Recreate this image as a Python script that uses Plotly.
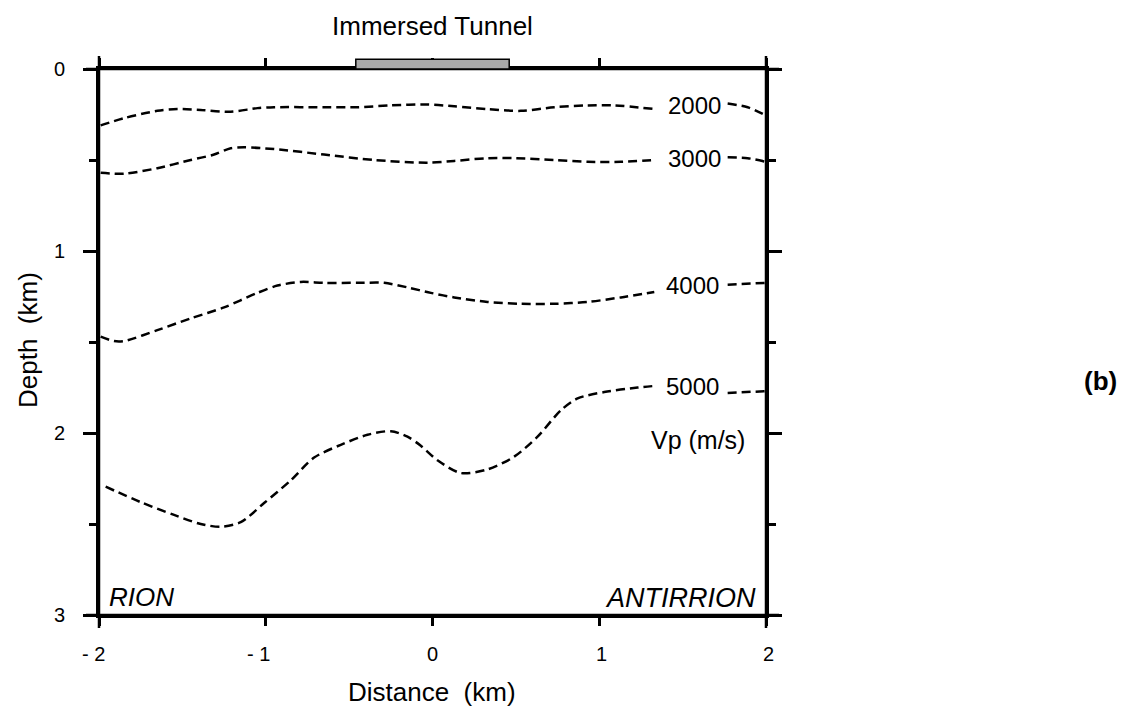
import plotly.graph_objects as go

# ---- velocity contours (distance in km, depth in km); None splits line around its label ----
X_2000 = [-1.99, -1.85, -1.65, -1.53, -1.39, -1.21, -1.05, -0.95, -0.65, -0.45, -0.25, -0.03,
          0.13, 0.33, 0.53, 0.73, 0.93, 1.09, 1.33, None, 1.77, 1.89, 2.0]
D_2000 = [0.31, 0.27, 0.23, 0.22, 0.225, 0.235, 0.215, 0.21, 0.21, 0.21, 0.20, 0.195,
          0.205, 0.22, 0.23, 0.21, 0.20, 0.20, 0.22, None, 0.19, 0.21, 0.255]

X_3000 = [-1.99, -1.85, -1.65, -1.45, -1.31, -1.21, -1.13, -0.95, -0.65, -0.35, -0.03,
          0.13, 0.33, 0.49, 0.73, 0.93, 1.13, 1.33, None, 1.77, 1.89, 2.0]
D_3000 = [0.57, 0.575, 0.545, 0.50, 0.47, 0.435, 0.43, 0.44, 0.47, 0.50, 0.515,
          0.505, 0.49, 0.49, 0.50, 0.51, 0.51, 0.50, None, 0.485, 0.49, 0.51]

X_4000 = [-1.99, -1.91, -1.85, -1.65, -1.45, -1.25, -1.05, -0.93, -0.79, -0.65, -0.45, -0.29,
          -0.15, -0.01, 0.13, 0.33, 0.53, 0.73, 0.93, 1.13, 1.33, None, 1.77, 2.0]
D_4000 = [1.47, 1.495, 1.495, 1.435, 1.37, 1.31, 1.23, 1.19, 1.17, 1.175, 1.175, 1.175,
          1.20, 1.23, 1.255, 1.28, 1.29, 1.29, 1.28, 1.255, 1.225, None, 1.185, 1.175]

X_5000 = [-1.96, -1.75, -1.55, -1.39, -1.27, -1.15, -1.01, -0.85, -0.71, -0.55, -0.39, -0.25,
          -0.15, -0.07, 0.03, 0.17, 0.33, 0.49, 0.63, 0.77, 0.87, 1.03, 1.23, 1.35, None, 1.77, 2.0]
D_5000 = [2.295, 2.38, 2.45, 2.50, 2.515, 2.49, 2.385, 2.26, 2.135, 2.065, 2.01, 1.99,
          2.02, 2.07, 2.15, 2.22, 2.20, 2.13, 2.02, 1.875, 1.81, 1.775, 1.75, 1.74, None, 1.78, 1.77]

CONTOURS = [(X_2000, D_2000), (X_3000, D_3000), (X_4000, D_4000), (X_5000, D_5000)]

# contour labels: text, distance, depth
LABEL_TEXT = ["2000", "3000", "4000", "5000", "Vp (m/s)"]
LABEL_X = [1.57, 1.57, 1.56, 1.56, 1.59]
LABEL_D = [0.203, 0.489, 1.187, 1.747, 2.038]
LABEL_SIZE = [24, 24, 24, 24, 25]

# immersed tunnel footprint
TUNNEL_X = [-0.46, 0.46]
TUNNEL_D = [-0.053, 0.0]

X_TICKS = [-2, -1, 0, 1, 2]
X_TICKTEXT = ["- 2", "- 1", "0", "1", "2"]
X_TICK_NUDGE = [-6, -7, 0, 2, 2]   # horizontal pixel nudge of each distance label
Y_TICKS = [0, 1, 2, 3]
Y_TICKTEXT = ["0", "1", "2", "3"]
Y_MINOR = [0.5, 1.5, 2.5]
X_RANGE = [-2, 2]
Y_RANGE = [3, 0]

FONT = "Liberation Sans, Arial, sans-serif"
TICK_SIZE = 20

fig = go.Figure()
for xs, ds in CONTOURS:
    fig.add_trace(go.Scatter(
        x=xs, y=ds, mode="lines", connectgaps=False,
        line=dict(color="black", width=2.5, dash="9px,5px", shape="spline", smoothing=0.8),
        hoverinfo="skip", showlegend=False,
    ))

for txt, lx, ld, sz in zip(LABEL_TEXT, LABEL_X, LABEL_D, LABEL_SIZE):
    fig.add_annotation(x=lx, y=ld, xref="x", yref="y", text=txt, showarrow=False,
                       xanchor="center", yanchor="middle",
                       font=dict(family=FONT, size=sz, color="black"))

# frame with crossed corners
W, H = 1136, 709
L, R, T, B = 99, 370, 69, 94
pw, ph = W - L - R, H - T - B
ex, ey = 13 / pw, 13 / ph
frame = dict(type="line", xref="paper", yref="paper", line=dict(color="black", width=2.5), layer="above")
fig.add_shape(x0=-ex, x1=1 + ex, y0=1, y1=1, **frame)
fig.add_shape(x0=-ex, x1=1 + ex, y0=0, y1=0, **frame)
fig.add_shape(x0=0, x1=0, y0=-ey, y1=1 + ey, **frame)
fig.add_shape(x0=1, x1=1, y0=-ey, y1=1 + ey, **frame)


# tunnel box sits just above depth 0, outside the data range
def depth_to_paper(d):
    return (Y_RANGE[0] - d) / (Y_RANGE[0] - Y_RANGE[1])


fig.add_shape(type="rect", xref="x", yref="paper",
              x0=TUNNEL_X[0], x1=TUNNEL_X[1],
              y0=depth_to_paper(TUNNEL_D[1]), y1=depth_to_paper(TUNNEL_D[0]),
              fillcolor="#a9a9a9", line=dict(color="black", width=1.5), layer="above")


def px_x(px):
    return (px - L) / pw


def px_y(py):
    return 1 - (py - T) / ph


def note(text, x, y, size, **kw):
    fig.add_annotation(x=x, y=y, xref="paper", yref="paper", text=text, showarrow=False,
                       font=dict(family=FONT, size=size, color="black"), **kw)


note("Immersed Tunnel", px_x(432), px_y(26), 26, xanchor="center", yanchor="middle")
note("Distance  (km)", px_x(432), px_y(692), 26, xanchor="center", yanchor="middle")
note("Depth  (km)", px_x(28), px_y(340), 26, xanchor="center", yanchor="middle", textangle=-90)
note("<i>RION</i>", px_x(107), px_y(597), 26, xanchor="left", yanchor="middle")
note("<i>ANTIRRION</i>", px_x(758), px_y(598), 27, xanchor="right", yanchor="middle")
note("<b>(b)</b>", px_x(1100), px_y(381), 26, xanchor="center", yanchor="middle")

# tick labels, placed on the axis scales
for tv, tt, nx in zip(X_TICKS, X_TICKTEXT, X_TICK_NUDGE):
    fig.add_annotation(x=tv, y=0, xref="x", yref="paper", text=tt, showarrow=False,
                       xanchor="center", yanchor="middle", xshift=nx, yshift=-39,
                       font=dict(family=FONT, size=TICK_SIZE, color="black"))
for tv, tt in zip(Y_TICKS, Y_TICKTEXT):
    fig.add_annotation(x=0, y=tv, xref="paper", yref="y", text=tt, showarrow=False,
                       xanchor="right", yanchor="middle", xshift=-32,
                       font=dict(family=FONT, size=TICK_SIZE, color="black"))

axis_common = dict(showgrid=False, zeroline=False, showline=True, linecolor="black",
                   linewidth=2.5, mirror="ticks", ticks="outside", tickcolor="black",
                   tickwidth=2.5, showticklabels=False)

fig.update_xaxes(range=X_RANGE, tickmode="array", tickvals=X_TICKS, ticklen=8, **axis_common)
fig.update_yaxes(range=Y_RANGE, tickmode="array", tickvals=Y_TICKS, ticklen=13,
                 minor=dict(tickvals=Y_MINOR, ticklen=7, tickwidth=2.5, tickcolor="black",
                            ticks="outside"),
                 **axis_common)

fig.update_layout(width=W, height=H, margin=dict(l=L, r=R, t=T, b=B),
                  font=dict(family=FONT, size=TICK_SIZE, color="black"),
                  paper_bgcolor="white", plot_bgcolor="white", showlegend=False)

fig.write_html("out.html")
